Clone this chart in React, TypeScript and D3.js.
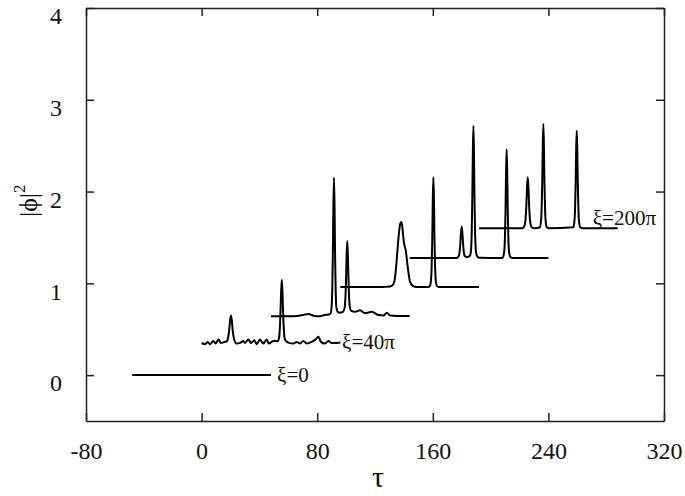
import React, { useEffect, useRef } from "react";
import * as d3 from "d3";

// axis ticks
const X_TICKS = [-80, 0, 80, 160, 240, 320];
const Y_TICKS = [0, 1, 2, 3, 4];

// |phi|^2 profiles (with vertical offsets), [tau, value]
const XI_0 = [[-48, 0], [48, 0]];

const XI_40PI = [
    [0, 0.35], [2.4, 0.337], [4.2, 0.362], [5.8, 0.337], [8.1, 0.373], [9.7, 0.344],
    [11.6, 0.388], [13.4, 0.351], [15.7, 0.36], [17.7, 0.371], [18.3, 0.404], [19.0, 0.476],
    [19.65, 0.587], [20.3, 0.65], [20.95, 0.587], [21.6, 0.476], [22.3, 0.404], [22.9, 0.371],
    [24.3, 0.344], [26.6, 0.351], [28.9, 0.373], [30.0, 0.351], [32.3, 0.388], [34.2, 0.351],
    [36.5, 0.38], [38.1, 0.337], [40.4, 0.388], [42.7, 0.344], [45.0, 0.388], [46.6, 0.344],
    [49.6, 0.373], [52.5, 0.37], [53.5, 0.4], [54.0, 0.474], [54.5, 0.64], [55.0, 0.895],
    [55.5, 1.04], [56.0, 0.895], [56.5, 0.64], [57.0, 0.474], [57.5, 0.4], [58.5, 0.37],
    [60.5, 0.351], [63.5, 0.344], [65.8, 0.362], [68.1, 0.344], [70.4, 0.373], [72.7, 0.344],
    [76.2, 0.362], [78.9, 0.388], [80.8, 0.417], [82.6, 0.362], [85.4, 0.344], [87.7, 0.373],
    [90.0, 0.351], [93.5, 0.351], [96, 0.355],
];

const XI_80PI = [
    [48, 0.64], [60, 0.64], [66, 0.645], [70, 0.655], [73.9, 0.665], [78, 0.645], [82, 0.64],
    [85, 0.655], [88, 0.66], [89.2, 0.67], [90.0, 0.75], [90.4, 0.92], [90.8, 1.28],
    [91.2, 1.84], [91.6, 2.15], [92.0, 1.84], [92.4, 1.28], [92.8, 0.92], [93.2, 0.75],
    [94.2, 0.69], [95.5, 0.68], [97.8, 0.69], [99.0, 0.735], [99.45, 0.82], [99.9, 1.01],
    [100.35, 1.3], [100.8, 1.46], [101.25, 1.3], [101.7, 1.01], [102.15, 0.82], [102.6, 0.74],
    [103.5, 0.7], [106.2, 0.69], [109.6, 0.706], [113.1, 0.675], [117.7, 0.69], [122.3, 0.655],
    [126, 0.65], [128.1, 0.68], [130.5, 0.65], [135, 0.645], [144, 0.645],
];

const XI_120PI = [
    [96, 0.96], [125, 0.96], [130.4, 0.965], [132.7, 0.99], [134, 1.08], [135, 1.25],
    [136, 1.45], [136.8, 1.58], [137.5, 1.65], [138.2, 1.667], [138.9, 1.62], [139.6, 1.5],
    [140.3, 1.42], [141, 1.38], [141.7, 1.31], [142.4, 1.21], [143.3, 1.1], [144.2, 1.02],
    [146, 0.975], [148.8, 0.96], [157, 0.96], [158.0, 0.972], [158.8, 1.044], [159.2, 1.18],
    [159.6, 1.46], [160.0, 1.91], [160.4, 2.156], [160.8, 1.91], [161.2, 1.46], [161.6, 1.18],
    [162.0, 1.044], [162.8, 0.972], [164, 0.96], [192, 0.96],
];

const XI_160PI = [
    [144, 1.275], [176, 1.275], [177, 1.28], [178, 1.3], [178.5, 1.337], [179, 1.42],
    [179.5, 1.548], [180, 1.62], [180.5, 1.548], [181, 1.42], [181.5, 1.337], [182, 1.3],
    [183.5, 1.285], [185.7, 1.3], [186.5, 1.376], [186.9, 1.535], [187.3, 1.88], [187.7, 2.41],
    [188.1, 2.717], [188.5, 2.41], [188.9, 1.88], [189.3, 1.535], [189.7, 1.376], [190.5, 1.3],
    [192, 1.278], [208, 1.275], [208.7, 1.29], [209.5, 1.358], [209.9, 1.49], [210.3, 1.77],
    [210.7, 2.21], [211.1, 2.46], [211.5, 2.21], [211.9, 1.77], [212.3, 1.49], [212.7, 1.358],
    [213.5, 1.29], [215, 1.275], [240, 1.275],
];

const XI_200PI = [
    [192, 1.6], [222, 1.6], [222.7, 1.607], [223.7, 1.64], [224.2, 1.7], [224.7, 1.834],
    [225.2, 2.04], [225.7, 2.156], [226.2, 2.04], [226.7, 1.834], [227.2, 1.7], [227.7, 1.64],
    [228.7, 1.607], [231, 1.6], [234.1, 1.611], [234.9, 1.68], [235.3, 1.804], [235.7, 2.077],
    [236.1, 2.497], [236.5, 2.736], [236.9, 2.497], [237.3, 2.077], [237.7, 1.804], [238.1, 1.68],
    [238.9, 1.611], [240.5, 1.6], [257.2, 1.61], [258.0, 1.675], [258.4, 1.787], [258.8, 2.046],
    [259.2, 2.44], [259.6, 2.663], [260.0, 2.44], [260.4, 2.046], [260.8, 1.787], [261.2, 1.675],
    [262, 1.61], [263.5, 1.6], [288, 1.6],
];

const SERIES = [XI_0, XI_40PI, XI_80PI, XI_120PI, XI_160PI, XI_200PI];

// curve labels: text, tau, value
const LABEL_TEXT = ["ξ=0", "ξ=40π", "ξ=200π"];
const LABEL_TAU = [52.2, 97.2, 270.7];
const LABEL_VAL = [-0.076, 0.283, 1.64];

const W = 685;
const H = 496;
const margin = { top: 8, right: 21, bottom: 75, left: 86 };
const FONT = "'Liberation Serif', 'Times New Roman', serif";

const App = () => {
    const ref = useRef(null);

    useEffect(() => {
        const svg = d3.select(ref.current);
        svg.selectAll("*").remove();

        const x = d3.scaleLinear().domain([-80, 320]).range([margin.left, W - margin.right]);
        const y = d3.scaleLinear().domain([-0.5, 4]).range([H - margin.bottom, margin.top]);

        // 四邊的座標軸（刻度朝內）
        const bottom = svg.append("g")
            .attr("transform", `translate(0,${H - margin.bottom})`)
            .call(d3.axisBottom(x).tickValues(X_TICKS).tickSizeInner(-8).tickSizeOuter(0)
                .tickPadding(21).tickFormat((d) => String(d)));
        const left = svg.append("g")
            .attr("transform", `translate(${margin.left},0)`)
            .call(d3.axisLeft(y).tickValues(Y_TICKS).tickSizeInner(-8).tickSizeOuter(0)
                .tickPadding(24).tickFormat((d) => String(d)));
        const top = svg.append("g")
            .attr("transform", `translate(0,${margin.top})`)
            .call(d3.axisTop(x).tickValues(X_TICKS).tickSizeInner(-8).tickSizeOuter(0)
                .tickFormat(() => ""));
        const right = svg.append("g")
            .attr("transform", `translate(${W - margin.right},0)`)
            .call(d3.axisRight(y).tickValues(Y_TICKS).tickSizeInner(-8).tickSizeOuter(0)
                .tickFormat(() => ""));

        [bottom, left, top, right].forEach((g) => {
            g.attr("font-family", FONT).attr("font-size", 24);
            g.selectAll("path, line").attr("stroke", "#222").attr("stroke-width", 1.5);
            g.selectAll("text").attr("fill", "#111");
        });
        // y 軸數字略低於刻度
        left.selectAll("text").attr("dy", "0.66em");

        // 曲線
        const line = d3.line()
            .x((d) => x(d[0]))
            .y((d) => y(d[1]))
            .curve(d3.curveMonotoneX);

        SERIES.forEach((s) => {
            svg.append("path")
                .datum(s)
                .attr("d", line)
                .attr("fill", "none")
                .attr("stroke", "#000")
                .attr("stroke-width", 2)
                .attr("stroke-linejoin", "round");
        });

        LABEL_TEXT.forEach((t, i) => {
            svg.append("text")
                .attr("x", x(LABEL_TAU[i]))
                .attr("y", y(LABEL_VAL[i]))
                .attr("font-family", FONT)
                .attr("font-size", 21)
                .attr("fill", "#111")
                .text(t);
        });

        // 軸標題
        svg.append("text")
            .attr("x", (x(-80) + x(320)) / 2 + 3)
            .attr("y", 487)
            .attr("text-anchor", "middle")
            .attr("font-family", FONT)
            .attr("font-size", 30)
            .attr("fill", "#111")
            .text("τ");

        const yl = svg.append("text")
            .attr("transform", `translate(37,${y(1.9)}) rotate(-90)`)
            .attr("text-anchor", "middle")
            .attr("font-family", FONT)
            .attr("font-size", 26)
            .attr("fill", "#111");
        yl.append("tspan").text("|ϕ|");
        yl.append("tspan").attr("dy", -12).attr("font-size", 17).text("2");
    }, []);

    return (
        <svg
            ref={ref}
            width={W}
            height={H}
            style={{ position: "absolute", left: 0, top: 0, background: "#fff" }}
        />
    );
};

export default App;
